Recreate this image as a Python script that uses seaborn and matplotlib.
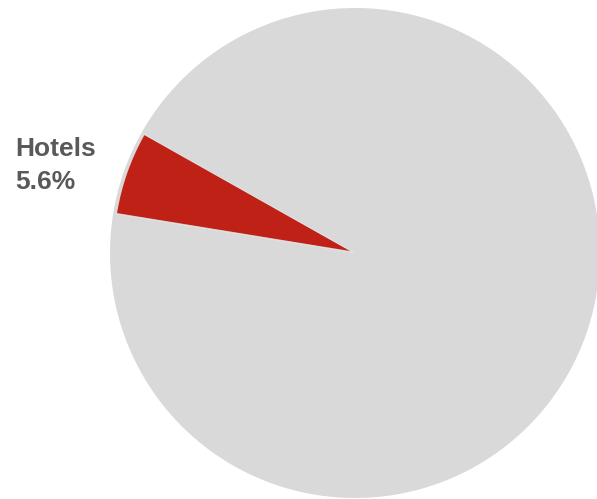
import matplotlib
matplotlib.use("Agg")
import matplotlib.pyplot as plt
import seaborn as sns

sns.set_theme(style="white")
plt.rcParams["font.family"] = ["Liberation Sans", "DejaVu Sans"]

# Share of spending by category
categories = ["Hotels", "Other"]
shares = [5.6, 94.4]
label_text = "Hotels\n5.6%"

GREY = "#d9d9d9"
RED = "#c02117"
TEXT = "#595959"

W, H = 597, 499
fig = plt.figure(figsize=(W / 100, H / 100), dpi=100)
ax = fig.add_axes([0, 0, 1, 1])

start = 150.6

# Full background disc
ax.pie(shares, colors=[GREY, GREY], startangle=start, counterclock=True,
       radius=245, center=(355, H - 253), frame=True,
       wedgeprops=dict(linewidth=0))

# Highlighted slice drawn slightly inset
wedges, _ = ax.pie(shares, colors=[RED, (0, 0, 0, 0)], startangle=start,
                   counterclock=True, radius=236, center=(350, H - 251),
                   frame=True, wedgeprops=dict(linewidth=0))

ax.set_xlim(0, W)
ax.set_ylim(0, H)
ax.set_aspect("equal")
ax.axis("off")

ax.text(15, H - 137, label_text, ha="left", va="top", fontsize=19,
        fontweight="bold", color=TEXT, linespacing=1.45)

fig.savefig("out.png", dpi=100)
